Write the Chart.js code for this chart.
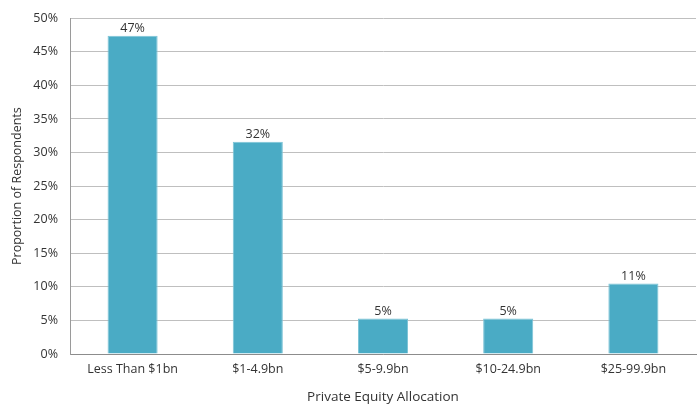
<!DOCTYPE html>
<html>
<head>
<meta charset="utf-8">
<script src="https://cdn.jsdelivr.net/npm/chart.js@4.4.0/dist/chart.umd.min.js"></script>
<style>
  html, body { margin: 0; padding: 0; background: #fff; }
  #wrap { width: 700px; height: 405px; }
</style>
</head>
<body>
<div id="wrap"><canvas id="chart" width="700" height="405"></canvas></div>
<script>
// Data
const categories = ['Less Than $1bn', '$1-4.9bn', '$5-9.9bn', '$10-24.9bn', '$25-99.9bn'];
const shares = [47.4, 31.6, 5.3, 5.3, 10.5];
const shareLabels = ['47%', '32%', '5%', '5%', '11%'];
const yTicks = [0, 5, 10, 15, 20, 25, 30, 35, 40, 45, 50];

const FONT = "'Open Sans', 'Lato', sans-serif";

// Draws the percentage above each bar
const barLabels = {
    id: 'barLabels',
    afterDatasetsDraw(chart) {
        const ctx = chart.ctx;
        const meta = chart.getDatasetMeta(0);
        ctx.save();
        ctx.font = '12.5px ' + FONT;
        ctx.fillStyle = '#333';
        ctx.textAlign = 'center';
        ctx.textBaseline = 'bottom';
        meta.data.forEach((bar, i) => {
            ctx.fillText(shareLabels[i], bar.x, bar.y - 1);
        });
        ctx.restore();
    }
};

new Chart(document.getElementById('chart').getContext('2d'), {
    type: 'bar',
    data: {
        labels: categories,
        datasets: [{
            data: shares,
            backgroundColor: '#4aabc5',
            borderColor: '#7cc3d6',
            borderWidth: 1,
            categoryPercentage: 1,
            barPercentage: 0.4
        }]
    },
    options: {
        responsive: false,
        animation: false,
        layout: { padding: { left: 10, right: 4, top: 4, bottom: 0 } },
        plugins: {
            legend: { display: false },
            tooltip: { enabled: false }
        },
        scales: {
            x: {
                grid: { display: false, drawTicks: false },
                border: { color: '#8c8c8c', width: 1 },
                ticks: { color: '#333', font: { family: FONT, size: 12.5 }, padding: 8 },
                title: {
                    display: true,
                    text: 'Private Equity Allocation',
                    color: '#333',
                    font: { family: FONT, size: 13.5 },
                    padding: { top: 6, bottom: 0 }
                },
                afterFit(scale) { scale.height = 51; }
            },
            y: {
                min: 0,
                max: 50,
                afterBuildTicks(scale) { scale.ticks = yTicks.map(v => ({ value: v })); },
                grid: { color: '#bfbfbf', lineWidth: 1, drawTicks: false },
                border: { color: '#9a9a9a', width: 1 },
                ticks: {
                    color: '#333',
                    font: { family: FONT, size: 12.5, lineHeight: 1 },
                    padding: 12,
                    callback: v => v + '%'
                },
                title: {
                    display: true,
                    text: 'Proportion of Respondents',
                    color: '#333',
                    font: { family: FONT, size: 12.5 },
                    padding: { top: 0, bottom: 0 }
                },
                afterFit(scale) { scale.width = 60; }
            }
        }
    },
    plugins: [barLabels]
});
</script>
</body>
</html>
